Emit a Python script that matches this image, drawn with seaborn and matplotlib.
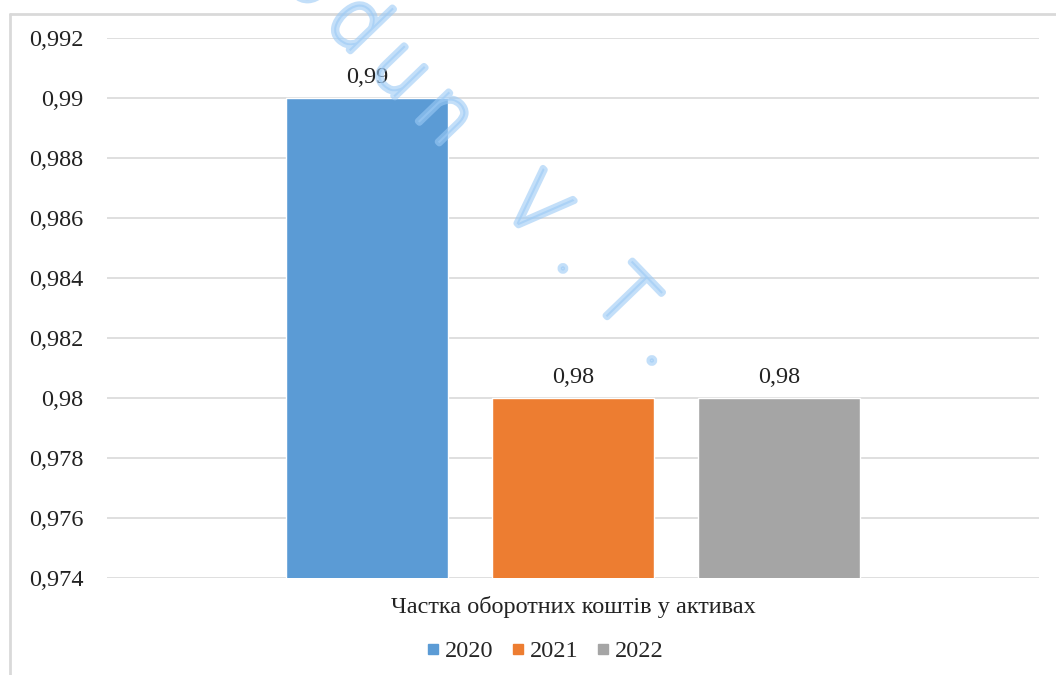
import math
import matplotlib
matplotlib.use("Agg")
import matplotlib.pyplot as plt
import matplotlib.ticker as mticker
import matplotlib.patheffects as pe
from matplotlib.lines import Line2D
import seaborn as sns
import pandas as pd

# Data
category = ["Частка оборотних коштів у активах"]
years = ["2020", "2021", "2022"]
values = [0.99, 0.98, 0.98]
colors = ["#5B9BD5", "#ED7D31", "#A5A5A5"]
watermark = "odun V.T."

df = pd.DataFrame({
    "category": category * len(years),
    "year": years,
    "value": values,
})

sns.set_theme(style="white")
plt.rcParams["font.family"] = ["Liberation Serif", "DejaVu Serif"]

FS = 17.5
W, H = 1056, 675
fig = plt.figure(figsize=(W / 100, H / 100), dpi=100)
ax = fig.add_axes([107 / W, 1 - 578 / H, (1039 - 107) / W, (578 - 38) / H])

sns.barplot(data=df, x="category", y="value", hue="year", palette=colors,
            width=0.663, gap=0.214, ax=ax, legend=False, saturation=1,
            errorbar=None)

ax.set_xlim(-0.5, 0.5)
ax.set_ylim(0.974, 0.992)
ax.yaxis.set_major_locator(mticker.MultipleLocator(0.002))


def fmt(v, pos):
    s = f"{v:.3f}".rstrip("0").rstrip(".")
    return s.replace(".", ",")


ax.yaxis.set_major_formatter(mticker.FuncFormatter(fmt))
ax.grid(axis="y", color="#d9d9d9", linewidth=1.2)
ax.set_axisbelow(True)
for s in ax.spines.values():
    s.set_visible(False)
ax.tick_params(axis="y", length=0, pad=17, labelsize=FS, colors="#222222")
ax.tick_params(axis="x", length=0, pad=13, labelsize=FS, colors="#222222")
ax.set_xlabel("")
ax.set_ylabel("")

# Value labels
for cont in ax.containers:
    ax.bar_label(cont, labels=[fmt(v, None) for v in cont.datavalues],
                 padding=7, fontsize=FS, color="#222222")

# Legend below the category label
handles = [Line2D([], [], marker="s", linestyle="none", markersize=6.5,
                  markerfacecolor=c, markeredgecolor=c) for c in colors]
fig.legend(handles, years, loc="center", bbox_to_anchor=(543 / W, 1 - 651 / H),
           ncol=3, frameon=False, fontsize=FS, handletextpad=0.05,
           columnspacing=0.55, handlelength=0.9)

# Chart frame
frame_color = "#d9d9d9"
fig.add_artist(Line2D([10 / W, 1.0], [1 - 14 / H, 1 - 14 / H],
                      transform=fig.transFigure, color=frame_color, lw=2))
fig.add_artist(Line2D([10 / W, 10 / W], [0, 1 - 14 / H],
                      transform=fig.transFigure, color=frame_color, lw=2))

# Watermark: evenly spaced single-stroke letters along a diagonal
wm_color = "#9ccaf5"
angle = 46.0
step = 64.0                      # px between letter cells
x0, y0 = 273.0, -29.0            # px, start of the baseline (from top-left)
dx, dy = math.cos(math.radians(angle)), math.sin(math.radians(angle))
stroke = [pe.Stroke(linewidth=4.6, foreground=wm_color, alpha=0.6,
                    capstyle="round", joinstyle="round")]
for i, ch in enumerate(watermark):
    if ch == " ":
        continue
    px = x0 + (i + 0.5) * step * dx
    py = y0 + (i + 0.5) * step * dy
    fig.text(px / W, 1 - py / H, ch, rotation=-angle, rotation_mode="anchor",
             ha="center", va="baseline", fontsize=58, color=wm_color,
             family=["Roboto", "DejaVu Sans"], fontweight="light",
             zorder=10, path_effects=stroke)

fig.savefig("out.png", dpi=100)
